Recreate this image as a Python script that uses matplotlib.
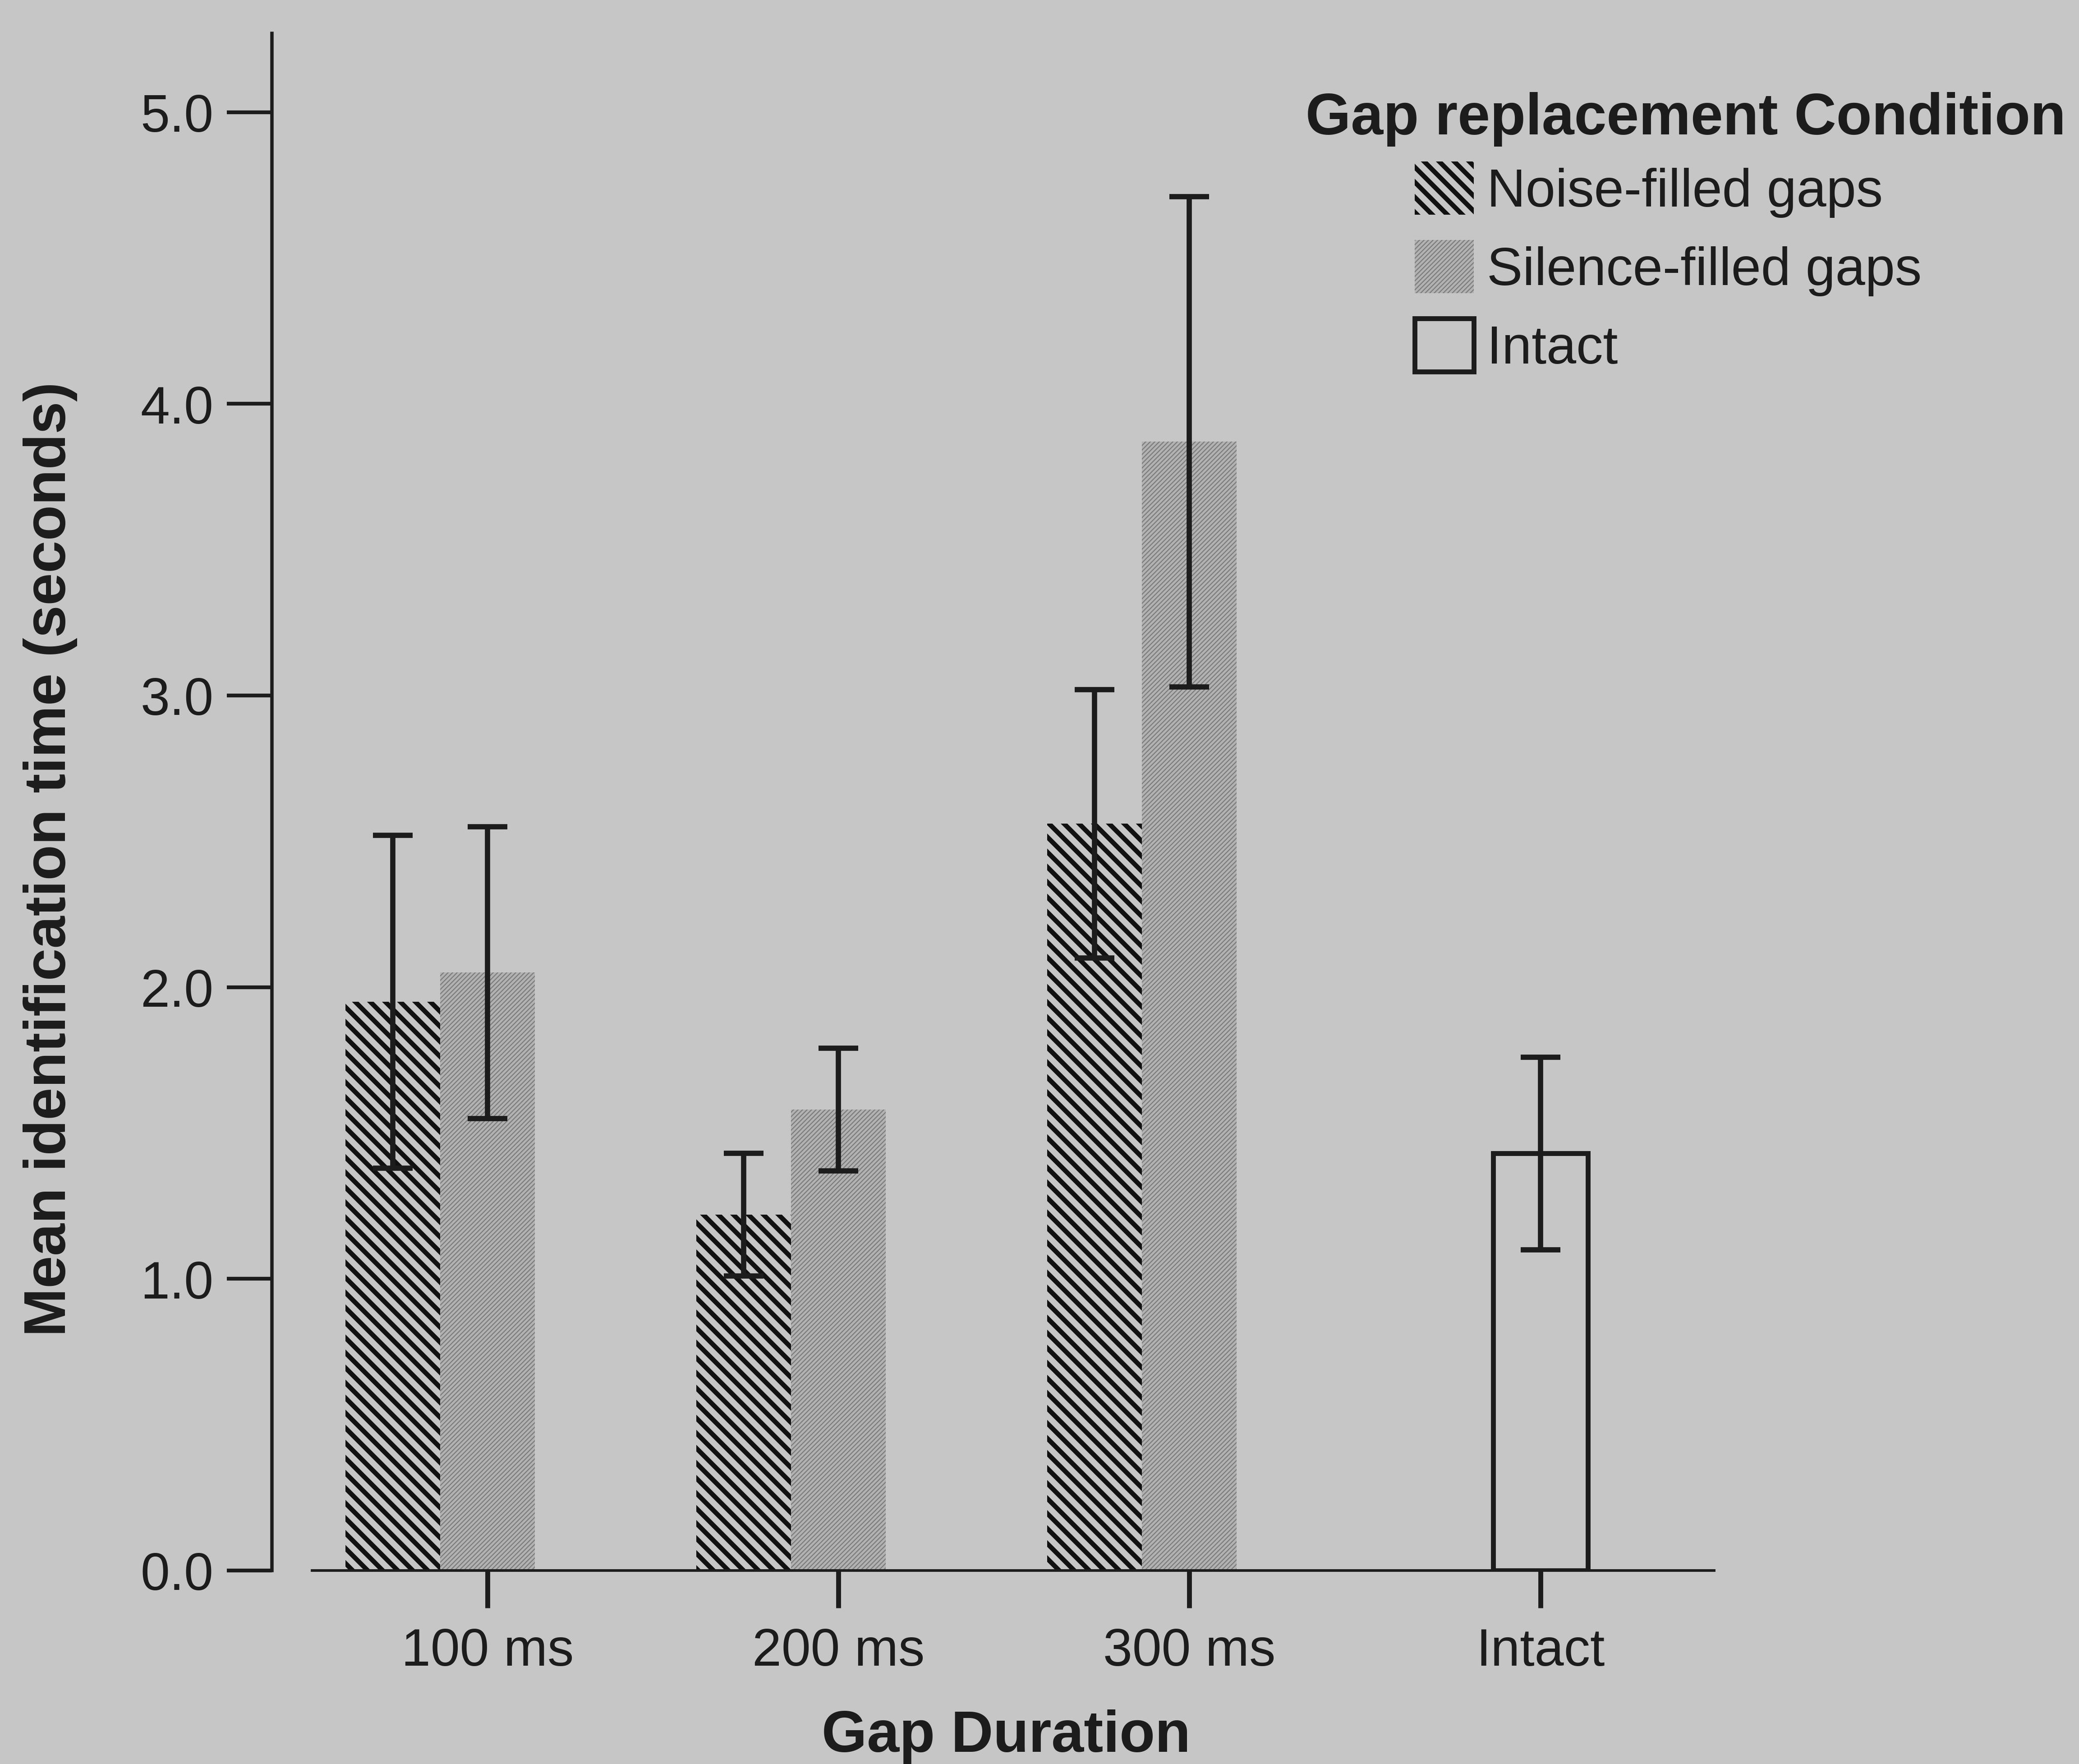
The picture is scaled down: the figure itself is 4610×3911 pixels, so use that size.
import matplotlib
matplotlib.use("Agg")
import matplotlib.pyplot as plt
from matplotlib.patches import Patch
import numpy as np

# Mean identification time per gap duration and condition
durations = ["100 ms", "200 ms", "300 ms", "Intact"]
noise_means = [1.95, 1.22, 2.56]
noise_err = [0.57, 0.21, 0.46]
silence_means = [2.05, 1.58, 3.87]
silence_err = [0.50, 0.21, 0.84]
intact_mean = [1.43]
intact_err = [0.33]
y_ticks = [0.0, 1.0, 2.0, 3.0, 4.0, 5.0]
y_tick_labels = ["0.0", "1.0", "2.0", "3.0", "4.0", "5.0"]
legend_labels = ["Noise-filled gaps", "Silence-filled gaps", "Intact"]

BG = "#c6c6c6"
INK = "#1c1c1c"
NOISE_LW = 2.5
SIL_LW = 0.55
plt.rcParams["font.family"] = ["Liberation Sans", "DejaVu Sans"]
plt.rcParams["text.color"] = INK

fig = plt.figure(figsize=(4610 / 300, 3912 / 300), dpi=300, facecolor=BG)
ax = fig.add_axes([0.1307, 0.1097, 0.6946, 0.8711])
ax.set_facecolor("none")

width = 0.27
pos = np.arange(1, len(durations) + 1)
gap_pos = pos[:3]


def hatch_lw(patches, lw):
    for p in patches:
        if hasattr(p, "set_hatch_linewidth"):
            p.set_hatch_linewidth(lw)


plt.rcParams["hatch.linewidth"] = NOISE_LW
noise = ax.bar(gap_pos - width, noise_means, width, facecolor=BG,
               edgecolor="#111111", linewidth=0, hatch="\\\\\\", zorder=2)
hatch_lw(noise, NOISE_LW)

plt.rcParams["hatch.linewidth"] = SIL_LW
silence = ax.bar(gap_pos, silence_means, width, facecolor="#b2b2b2",
                 edgecolor="#7c7c7c", linewidth=0, hatch="//////////", zorder=2)
hatch_lw(silence, SIL_LW)

intact = ax.bar(pos[3:], intact_mean, width, facecolor="none",
                edgecolor=INK, linewidth=2.6, zorder=2)

eb_kw = dict(fmt="none", ecolor=INK, elinewidth=2.8, capsize=10.5,
             capthick=2.8, zorder=3)
ax.errorbar(gap_pos - width, noise_means, yerr=noise_err, **eb_kw)
ax.errorbar(gap_pos, silence_means, yerr=silence_err, **eb_kw)
ax.errorbar(pos[3:], intact_mean, yerr=intact_err, **eb_kw)

ax.set_xlim(0.385, 4.5)
ax.set_ylim(0, 5.27)
ax.spines["top"].set_visible(False)
ax.spines["right"].set_visible(False)
ax.spines["left"].set_linewidth(1.8)
ax.spines["left"].set_color(INK)
ax.spines["bottom"].set_linewidth(1.4)
ax.spines["bottom"].set_color(INK)
ax.spines["bottom"].set_bounds(0.5, 4.495)

ax.set_yticks(y_ticks)
ax.set_yticklabels(y_tick_labels)
ax.set_xticks(pos)
ax.set_xticklabels(durations)
ax.tick_params(axis="y", direction="out", length=24, width=2.0, pad=7,
               labelsize=28, colors=INK)
ax.tick_params(axis="x", direction="out", length=20, width=2.6, pad=10,
               labelsize=28, colors=INK)

fig.text(0.0242, 0.513, "Mean identification time (seconds)", rotation=90,
         ha="center", va="center", fontsize=31, fontweight="bold")
fig.text(0.484, 0.0158, "Gap Duration", ha="center", va="center",
         fontsize=31, fontweight="bold")

fig.text(0.628, 0.9324, "Gap replacement Condition", ha="left", va="center",
         fontsize=31, fontweight="bold")

h_noise = Patch(facecolor=BG, edgecolor="#111111", linewidth=0, hatch="\\\\\\")
h_sil = Patch(facecolor="#b2b2b2", edgecolor="#7c7c7c", linewidth=0,
              hatch="//////////")
h_int = Patch(facecolor="none", edgecolor=INK, linewidth=2.6)
leg = fig.legend([h_noise, h_sil, h_int], legend_labels, loc="upper left",
                 bbox_to_anchor=(0.6805, 0.9083), bbox_transform=fig.transFigure,
                 frameon=False, fontsize=28.5, handlelength=1.1,
                 handleheight=1.15, handletextpad=0.25, labelspacing=0.42,
                 borderpad=0, borderaxespad=0)
handles = leg.legend_handles
hatch_lw([handles[0]], NOISE_LW)
hatch_lw([handles[1]], SIL_LW)

fig.savefig("out.png", dpi=300, facecolor=BG)
